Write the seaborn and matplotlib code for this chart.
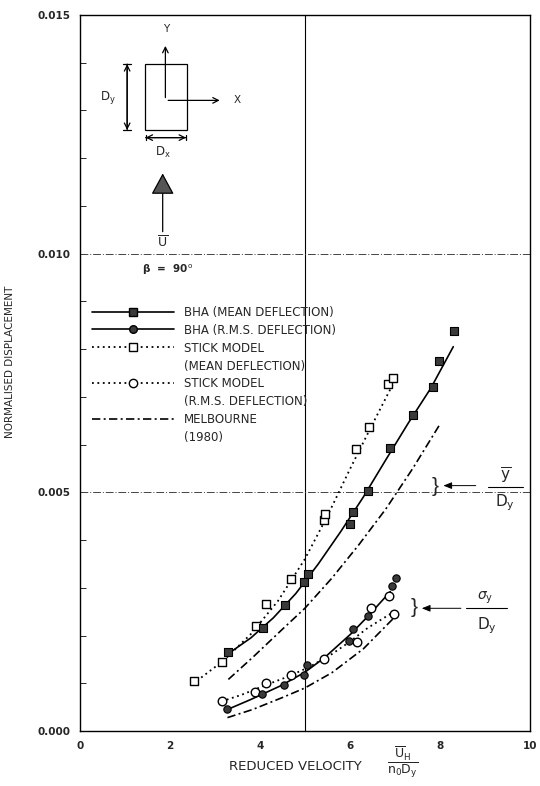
import matplotlib
matplotlib.use("Agg")
import matplotlib.pyplot as plt
from matplotlib.lines import Line2D
from matplotlib.patches import Rectangle
import seaborn as sns

# ── data (y = normalised displacement) ───────────────────────────────────────
bha_mean_x = [3.30, 4.08, 4.56, 4.99, 5.08, 6.00, 6.07, 6.40, 6.89, 7.41, 7.84, 7.99, 8.31]
bha_mean_y = [0.00165, 0.00215, 0.00263, 0.00312, 0.00329, 0.00434, 0.00458, 0.00503,
              0.00592, 0.00662, 0.00721, 0.00776, 0.00838]
bha_mean_fit_x = [3.3, 3.8, 4.3, 4.8, 5.3, 5.8, 6.3, 6.8, 7.3, 7.8, 8.3]
bha_mean_fit_y = [0.00162, 0.00195, 0.00237, 0.00288, 0.00350, 0.00418, 0.00490,
                  0.00568, 0.00645, 0.00718, 0.00805]

stick_mean_x = [2.53, 3.15, 3.91, 4.13, 4.70, 5.42, 5.45, 6.13, 6.43, 6.85, 6.95]
stick_mean_y = [0.00105, 0.00144, 0.00220, 0.00265, 0.00319, 0.00441, 0.00455,
                0.00590, 0.00637, 0.00726, 0.00740]
stick_mean_fit_x = [2.6, 3.2, 3.8, 4.4, 5.0, 5.5, 6.0, 6.5, 6.95]
stick_mean_fit_y = [0.00105, 0.00148, 0.00203, 0.00272, 0.00360, 0.00450, 0.00548,
                    0.00642, 0.00725]

melb_mean_x = [3.3, 3.85, 4.5, 5.0, 5.6, 6.2, 6.8, 7.4, 8.0]
melb_mean_y = [0.00108, 0.00155, 0.00213, 0.00257, 0.00320, 0.00390, 0.00465,
               0.00550, 0.00642]

bha_rms_x = [3.28, 4.05, 4.54, 4.98, 5.05, 5.99, 6.07, 6.41, 6.93, 7.03]
bha_rms_y = [0.00045, 0.00078, 0.00096, 0.00117, 0.00138, 0.00189, 0.00214, 0.00241,
             0.00303, 0.00321]
bha_rms_fit_x = [3.28, 3.8, 4.47, 5.0, 5.43, 6.02, 6.41, 6.9]
bha_rms_fit_y = [0.00045, 0.00066, 0.00095, 0.00123, 0.00153, 0.00203, 0.00241, 0.00292]

stick_rms_x = [3.15, 3.90, 4.13, 4.69, 5.43, 6.17, 6.46, 6.87, 6.98]
stick_rms_y = [0.00063, 0.00082, 0.00101, 0.00117, 0.00151, 0.00187, 0.00258,
               0.00283, 0.00245]
stick_rms_fit_x = [3.15, 3.6, 4.1, 4.6, 5.1, 5.6, 6.0, 6.4, 6.95]
stick_rms_fit_y = [0.00062, 0.00076, 0.00095, 0.00113, 0.00134, 0.00161, 0.00187,
                   0.00216, 0.00248]

melb_rms_x = [3.28, 3.84, 4.5, 5.0, 5.6, 6.3, 6.96]
melb_rms_y = [0.00028, 0.00045, 0.00070, 0.00090, 0.00122, 0.00172, 0.00235]

x_ticks = [0, 2, 4, 6, 8, 10]
y_ticks = [0.000, 0.005, 0.010, 0.015]
y_tick_labels = ["0.000", "0.005", "0.010", "0.015"]

legend_labels = ["BHA (MEAN DEFLECTION)", "BHA (R.M.S. DEFLECTION)",
                 "STICK MODEL", "(MEAN DEFLECTION)",
                 "STICK MODEL", "(R.M.S. DEFLECTION)",
                 "MELBOURNE", "(1980)"]

# ── styles ───────────────────────────────────────────────────────────────────
DOT = (0, (1, 2))
DASHDOT = (0, (5, 2, 1.2, 2))
DARK = "#3a3a3a"

sns.set_style("white")
plt.rcParams["font.family"] = ["DejaVu Sans"]
plt.rcParams["mathtext.fontset"] = "dejavusans"

fig = plt.figure(figsize=(5.4, 7.86), dpi=100)
ax = fig.add_axes([0.148, 0.070, 0.833, 0.911])

# reference lines
ax.axvline(5, color="black", lw=0.8, zorder=1)
ax.axhline(0.010, color="#444444", lw=0.7, ls=(0, (8, 2, 1, 2)), zorder=1)
ax.axhline(0.005, color="#444444", lw=0.7, ls=(0, (8, 2, 1, 2)), zorder=1)

# curves
sns.lineplot(x=bha_mean_fit_x, y=bha_mean_fit_y, ax=ax, color="black", lw=1.2,
             sort=False, estimator=None, zorder=2)
sns.lineplot(x=stick_mean_fit_x, y=stick_mean_fit_y, ax=ax, color="black", lw=1.3,
             linestyle=DOT, sort=False, estimator=None, zorder=2)
sns.lineplot(x=melb_mean_x, y=melb_mean_y, ax=ax, color="black", lw=1.2,
             linestyle=DASHDOT, sort=False, estimator=None, zorder=2)
sns.lineplot(x=bha_rms_fit_x, y=bha_rms_fit_y, ax=ax, color="black", lw=1.2,
             sort=False, estimator=None, zorder=2)
sns.lineplot(x=stick_rms_fit_x, y=stick_rms_fit_y, ax=ax, color="black", lw=1.3,
             linestyle=DOT, sort=False, estimator=None, zorder=2)
sns.lineplot(x=melb_rms_x, y=melb_rms_y, ax=ax, color="black", lw=1.2,
             linestyle=DASHDOT, sort=False, estimator=None, zorder=2)

# measured points
sns.scatterplot(x=stick_mean_x, y=stick_mean_y, ax=ax, marker="s", s=36,
                color="white", edgecolor="black", linewidth=1.0, zorder=3)
sns.scatterplot(x=bha_mean_x, y=bha_mean_y, ax=ax, marker="s", s=30,
                color=DARK, edgecolor="black", linewidth=0.8, zorder=4)
sns.scatterplot(x=stick_rms_x, y=stick_rms_y, ax=ax, marker="o", s=38,
                color="white", edgecolor="black", linewidth=1.0, zorder=3)
sns.scatterplot(x=bha_rms_x, y=bha_rms_y, ax=ax, marker="o", s=28,
                color=DARK, edgecolor="black", linewidth=0.8, zorder=4)

# ── axes ─────────────────────────────────────────────────────────────────────
ax.set_xlim(0, 10)
ax.set_ylim(0, 0.015)
ax.set_xticks(x_ticks)
ax.set_xticklabels([str(t) for t in x_ticks], fontsize=7.5, fontweight="bold")
ax.set_yticks(y_ticks)
ax.set_yticklabels(y_tick_labels, fontsize=7.5, fontweight="bold")
ax.set_yticks([i * 0.001 for i in range(16)], minor=True)
ax.tick_params(axis="y", which="both", direction="in", length=4, width=0.7,
               left=True, pad=7)
ax.tick_params(axis="x", which="major", direction="in", length=0, pad=7)
for sp in ax.spines.values():
    sp.set_color("black")
    sp.set_linewidth(1.0)

ax.set_ylabel("NORMALISED DISPLACEMENT", fontsize=7.5)
ax.yaxis.set_label_coords(-0.145, 0.515)
ax.set_xlabel("REDUCED VELOCITY", fontsize=9.5, va="center")
ax.xaxis.set_label_coords(0.478, -0.050)
ax.text(0.718, -0.044,
        r"$\dfrac{\overline{\mathrm{U}}_{\mathrm{H}}}{\mathrm{n_0 D_y}}$",
        transform=ax.transAxes, ha="center", va="center", fontsize=9,
        clip_on=False)

# ── legend ───────────────────────────────────────────────────────────────────
blank = Line2D([], [], color="none")
handles = [
    Line2D([], [], color="black", lw=1.2, marker="s", markersize=5.5,
           markerfacecolor=DARK, markeredgecolor="black"),
    Line2D([], [], color="black", lw=1.2, marker="o", markersize=5.5,
           markerfacecolor=DARK, markeredgecolor="black"),
    Line2D([], [], color="black", lw=1.3, ls=DOT, marker="s", markersize=6,
           markerfacecolor="white", markeredgecolor="black"),
    blank,
    Line2D([], [], color="black", lw=1.3, ls=DOT, marker="o", markersize=6,
           markerfacecolor="white", markeredgecolor="black"),
    blank,
    Line2D([], [], color="black", lw=1.2, ls=DASHDOT),
    blank,
]
ax.legend(handles, legend_labels, loc="upper left", bbox_to_anchor=(0.027, 0.594),
          frameon=False, fontsize=8.5, handlelength=6.9, handletextpad=0.9,
          labelspacing=0.42, borderpad=0, borderaxespad=0, numpoints=1)

# ── inset sketch: section, axes and wind direction ──────────────────────────
ax.add_patch(Rectangle((1.44, 0.01259), 0.94, 0.00138, fill=False,
                       edgecolor="black", lw=0.9, zorder=3))
ax.annotate("", xy=(1.90, 0.01441), xytext=(1.90, 0.01321),
            arrowprops=dict(arrowstyle="->", color="black", lw=0.9))
ax.annotate("", xy=(3.17, 0.01321), xytext=(1.90, 0.01321),
            arrowprops=dict(arrowstyle="->", color="black", lw=0.9))
ax.text(1.91, 0.01470, "Y", ha="center", va="center", fontsize=7.5)
ax.text(3.49, 0.01321, "X", ha="center", va="center", fontsize=7.5)
ax.annotate("", xy=(1.05, 0.01397), xytext=(1.05, 0.01259),
            arrowprops=dict(arrowstyle="<->", color="black", lw=0.9,
                            shrinkA=0, shrinkB=0))
ax.annotate("", xy=(1.05, 0.01397), xytext=(1.05, 0.01259),
            arrowprops=dict(arrowstyle="|-|,widthA=0.3,widthB=0.3", color="black",
                            lw=0.9, shrinkA=0, shrinkB=0))
ax.text(0.63, 0.01327, r"$\mathrm{D}_{\mathrm{y}}$", ha="center", va="center", fontsize=8.5)
ax.annotate("", xy=(2.36, 0.01243), xytext=(1.46, 0.01243),
            arrowprops=dict(arrowstyle="<->", color="black", lw=0.9,
                            shrinkA=0, shrinkB=0))
ax.annotate("", xy=(2.36, 0.01243), xytext=(1.46, 0.01243),
            arrowprops=dict(arrowstyle="|-|,widthA=0.2,widthB=0.2", color="black",
                            lw=0.9, shrinkA=0, shrinkB=0))
ax.text(1.84, 0.01212, r"$\mathrm{D}_{\mathrm{x}}$", ha="center", va="center", fontsize=8.5)
ax.annotate("", xy=(1.84, 0.01168), xytext=(1.84, 0.01046),
            arrowprops=dict(arrowstyle="-|>,head_length=0.7,head_width=0.38",
                            mutation_scale=19, facecolor="#555555",
                            edgecolor="black", lw=0.9, shrinkA=0, shrinkB=0))
ax.text(1.84, 0.01023, r"$\overline{\mathrm{U}}$", ha="center", va="center", fontsize=9)
ax.text(1.95, 0.00966, r"β  =  90$^{\mathrm{o}}$", ha="center", va="center",
        fontsize=7.5, fontweight="bold")

# ── bracket labels on the right ─────────────────────────────────────────────
ax.text(7.9, 0.00513, "}", ha="center", va="center", fontsize=15,
        family="Liberation Sans")
ax.annotate("", xy=(8.08, 0.00514), xytext=(8.8, 0.00514),
            arrowprops=dict(arrowstyle="-|>,head_length=0.5,head_width=0.2",
                            color="black", lw=0.7, shrinkA=0, shrinkB=0))
ax.text(9.46, 0.00535, r"$\overline{\mathrm{y}}$", ha="center", va="center", fontsize=11)
ax.plot([9.07, 9.85], [0.00512, 0.00512], color="black", lw=0.8)
ax.text(9.45, 0.00478, r"$\mathrm{D}_{\mathrm{y}}$", ha="center", va="center", fontsize=11)

ax.text(7.43, 0.00258, "}", ha="center", va="center", fontsize=15,
        family="Liberation Sans")
ax.annotate("", xy=(7.6, 0.00257), xytext=(8.47, 0.00257),
            arrowprops=dict(arrowstyle="-|>,head_length=0.5,head_width=0.2",
                            color="black", lw=0.7, shrinkA=0, shrinkB=0))
ax.text(9.0, 0.00279, r"$\sigma_{\mathrm{y}}$", ha="center", va="center", fontsize=10)
ax.plot([8.58, 9.50], [0.00257, 0.00257], color="black", lw=0.8)
ax.text(9.05, 0.00221, r"$\mathrm{D}_{\mathrm{y}}$", ha="center", va="center", fontsize=11)

fig.savefig("out.png", dpi=100, facecolor="white")
plt.close(fig)
